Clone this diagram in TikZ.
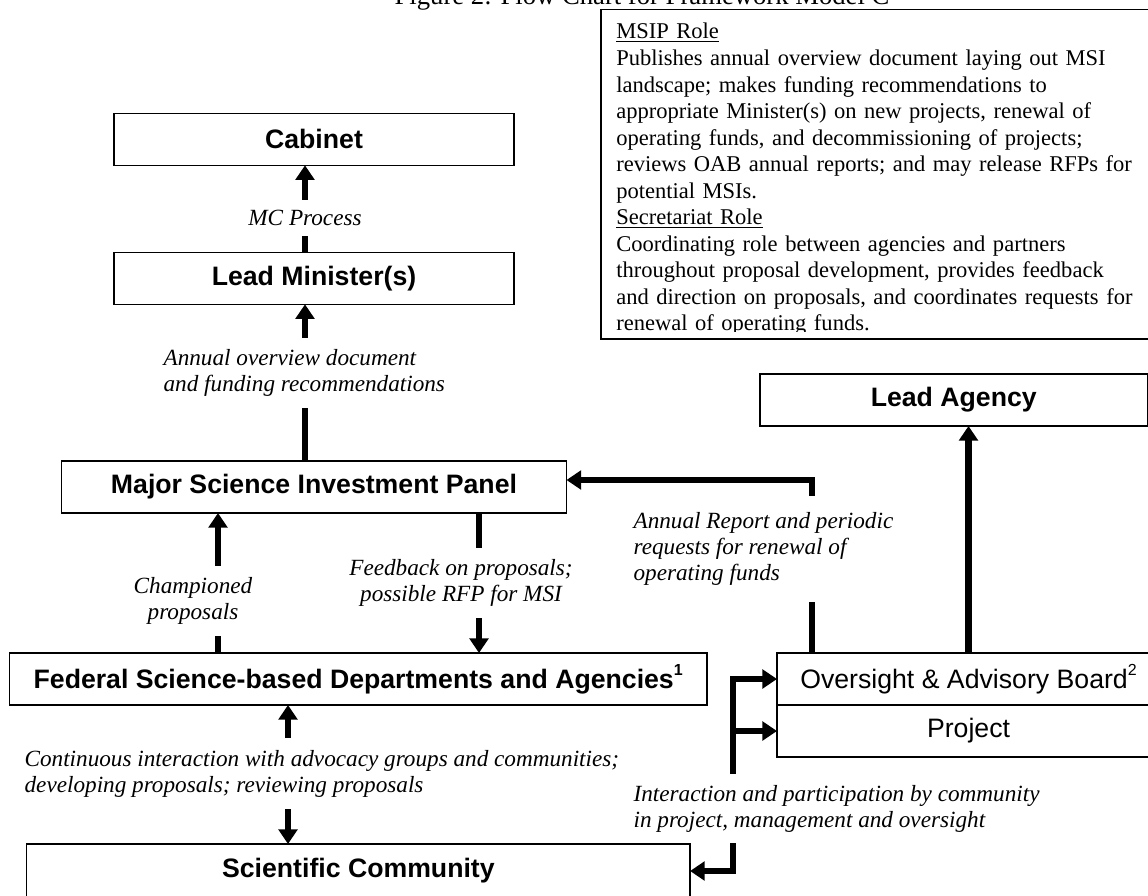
\documentclass[tikz,border=0pt]{standalone}
\usepackage{fontspec}
\setmainfont{Liberation Serif}
\setsansfont{Liberation Sans}
\usetikzlibrary{arrows.meta,positioning}

\newcommand{\upnum}[1]{\raisebox{0.5em}{\fontsize{12}{12}\selectfont #1}}

\tikzset{
  box/.style={draw, line width=1pt, inner sep=0pt, outer sep=0pt, minimum height=39pt,
    font=\fontsize{20}{24}\selectfont\sffamily\bfseries},
  thinbox/.style={box, font=\fontsize{20}{24}\selectfont\sffamily},
  note/.style={fill=white, inner xsep=1pt, inner ysep=0pt,
    font=\fontsize{17.4}{19.5}\selectfont\itshape},
  link/.style={line width=4.8pt},
  arr/.style={link, -{Triangle[length=11pt,width=14pt]}},
  arrtwo/.style={link, {Triangle[length=11pt,width=14pt]}-{Triangle[length=11pt,width=14pt]}},
}

\begin{document}
\begin{tikzpicture}[x=0.75pt, y=-0.75pt]
    \useasboundingbox (0,0) rectangle (1148,895);
    \clip (0,0) rectangle (1148,895);

    % the title (cut off at the top)
    \node[anchor=base, inner sep=0pt, font=\fontsize{20}{24}\selectfont] (title) at (642,5)
        {Figure 2: Flow Chart for Framework Model C};

    % the roles box
    \draw[line width=1pt] (601,9.3) rectangle (1160,339);
    \begin{scope}
        \clip (601,9) rectangle (1160,331);
        \node[anchor=base west, inner sep=0pt, text width=405pt, align=left,
              font=\fontsize{16.9}{19.9}\selectfont] (roles) at (616,39)
            {\underline{MSIP Role}\\
             Publishes annual overview document laying out MSI\\
             landscape; makes funding recommendations to\\
             appropriate Minister(s) on new projects, renewal of\\
             operating funds, and decommissioning of projects;\\
             reviews OAB annual reports; and may release RFPs for\\
             potential MSIs.\\
             \underline{Secretariat Role}\\
             Coordinating role between agencies and partners\\
             throughout proposal development, provides feedback\\
             and direction on proposals, and coordinates requests for\\
             renewal of operating funds.};
    \end{scope}

    % the boxes
    \node[box, minimum width=300pt] (cabinet) at (314,139.3) {Cabinet};
    \node[box, minimum width=300pt] (lead) at (314,278.3) {Lead Minister(s)};
    \node[box, minimum width=378.75pt] (panel) at (314,487) {Major Science Investment Panel};
    \node[box, minimum width=290.6pt] (agency) at (953.75,400) {Lead Agency};
    \node[box, minimum width=523.3pt] (federal) at (358.2,679)
        {Federal Science-based Departments and Agencies\upnum{1}};
    \node[box, minimum width=497.5pt, minimum height=40.5pt] (community) at (358.4,871)
        {Scientific Community};
    \node[thinbox, minimum width=287.25pt] (board) at (968.5,679)
        {Oversight \& Advisory Board\upnum{2}};
    \node[thinbox, minimum width=287.25pt, below=0pt of board] (project) {Project};

    % where the vertical connectors run
    \coordinate (mid) at (305,0);
    \coordinate (champ) at (218,0);
    \coordinate (feed) at (479,0);
    \coordinate (talk) at (288,0);
    \coordinate (turn) at (812,480);
    \coordinate (fork) at (733,679);

    % draw the arrows
    \draw[arr] (lead.north -| mid) -- (cabinet.south -| mid);
    \draw[arr] (panel.north -| mid) -- (lead.south -| mid);
    \draw[arr] (federal.north -| champ) -- (panel.south -| champ);
    \draw[arr] (panel.south -| feed) -- (federal.north -| feed);
    \draw[arrtwo] (federal.south -| talk) -- (community.north -| talk);
    \draw[arr] (board.north -| project.north) -- (agency.south -| project.north);
    \draw[arr] (board.north -| turn) -- (turn) -- (panel.east |- turn);
    \draw[arrtwo] (board.west) -- (fork) |- (community.east);
    \draw[arr] (fork |- project.west) -- (project.west);

    % the texts on the arrows
    \node[note, minimum height=27pt] (mcnote) at (305,218) {MC Process};
    \node[note, anchor=west, align=left, minimum height=52.5pt] (overview) at (162,373)
        {Annual overview document\\and funding recommendations};
    \node[note, align=center, minimum height=52.5pt] (champnote) at (193,601)
        {Championed\\proposals};
    \node[note, align=center, minimum height=52.5pt] (feednote) at (461,583)
        {Feedback on proposals;\\possible RFP for MSI};
    \node[note, anchor=west, align=left, minimum height=53.25pt] (talknote) at (23,773.5)
        {Continuous interaction with advocacy groups and communities;\\developing proposals; reviewing proposals};
    \node[note, anchor=west, align=left, minimum height=79.5pt] (reportnote) at (632,549)
        {Annual Report and periodic\\requests for renewal of\\operating funds};
    \node[note, anchor=west, align=left, minimum height=51.75pt] (partnote) at (632,808.5)
        {Interaction and participation by community\\in project, management and oversight};

\end{tikzpicture}
\end{document}
